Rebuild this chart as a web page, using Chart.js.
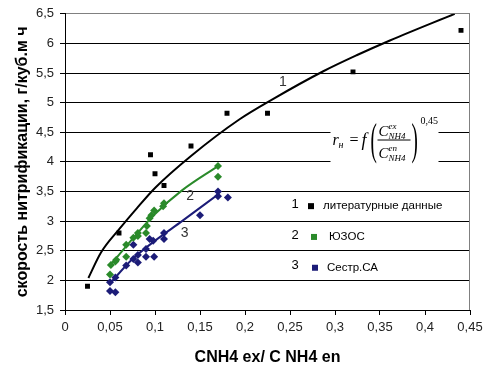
<!DOCTYPE html>
<html><head><meta charset="utf-8">
<script src="https://cdn.jsdelivr.net/npm/chart.js@4/dist/chart.umd.min.js"></script>
<style>html,body{margin:0;padding:0;background:#fff}#wrap{width:489px;height:371px}</style>
</head><body><div id="wrap"><canvas id="c" width="489" height="371"></canvas></div>
<script>
// literature data (series 1)
const litX = [0.025,0.06,0.095,0.1,0.11,0.14,0.18,0.225,0.32,0.44];
const litY = [1.9,2.8,4.12,3.8,3.6,4.27,4.82,4.82,5.52,6.22];
// ЮЗОС (series 2)
const yuzX = [0.05,0.051,0.056,0.057,0.068,0.068,0.076,0.081,0.081,0.09,0.091,0.094,0.096,0.099,0.109,0.11,0.17,0.17];
const yuzY = [2.1,2.26,2.32,2.35,2.4,2.6,2.72,2.75,2.8,2.8,2.92,3.05,3.1,3.18,3.25,3.3,3.93,3.75];
// Сестр.СА (series 3)
const sesX = [0.05,0.056,0.05,0.056,0.068,0.076,0.076,0.081,0.081,0.09,0.09,0.094,0.098,0.099,0.11,0.11,0.15,0.17,0.17,0.181];
const sesY = [1.82,1.8,1.97,2.05,2.25,2.36,2.6,2.3,2.43,2.4,2.53,2.7,2.67,2.4,2.8,2.7,3.1,3.5,3.42,3.4];
// trend curves
const tr1X = [0.026,0.04,0.06,0.08,0.1,0.14,0.194,0.231,0.287,0.324,0.361,0.433];
const tr1Y = [2.04,2.47,2.86,3.22,3.56,4.1,4.72,5.06,5.53,5.8,6.05,6.5];
const tr2X = [0.05,0.075,0.1,0.13,0.17];
const tr2Y = [2.25,2.7,3.12,3.52,3.93];
const tr3X = [0.05,0.075,0.1,0.13,0.17];
const tr3Y = [1.95,2.36,2.67,3.0,3.45];
// tick labels
const xTicks = [0,0.05,0.1,0.15,0.2,0.25,0.3,0.35,0.4,0.45];
const yTicks = [1.5,2,2.5,3,3.5,4,4.5,5,5.5,6,6.5];
const legendNums = ['1','2','3'];
const legendNames = ['литературные данные','ЮЗОС','Сестр.СА'];
const xTitle = 'CNH4 ex/ C NH4 en';
const yTitle = 'скорость нитрификации, г/куб.м ч';

const cBlack = '#000000', cGreen = '#2a8a2a', cBlue = '#1c1c78';
const pts = (xs, ys) => xs.map((x, i) => ({x, y: ys[i]}));
const fmt = v => String(+v.toFixed(2)).replace('.', ',');

const overlay = {
  id: 'overlay',
  afterDatasetsDraw(chart) {
    const ctx = chart.ctx, xs = chart.scales.x, ys = chart.scales.y;
    ctx.save();
    // curve labels
    ctx.font = '14px "Liberation Sans", Arial';
    ctx.fillStyle = '#333';
    ctx.textAlign = 'center'; ctx.textBaseline = 'middle';
    ctx.fillText('1', xs.getPixelForValue(0.242), ys.getPixelForValue(5.35));
    ctx.fillText('2', xs.getPixelForValue(0.139), ys.getPixelForValue(3.42));
    ctx.fillText('3', xs.getPixelForValue(0.133), ys.getPixelForValue(2.79));
    // formula box
    const bx = xs.getPixelForValue(0.295), by = ys.getPixelForValue(4.8);
    ctx.fillStyle = '#fff';
    ctx.fillRect(bx, by, xs.getPixelForValue(0.415) - bx, ys.getPixelForValue(3.9) - by);
    ctx.fillStyle = '#000';
    ctx.textAlign = 'left'; ctx.textBaseline = 'alphabetic';
    ctx.font = 'italic 16px "Liberation Serif", serif';
    ctx.fillText('r', bx + 2, by + 30);
    ctx.font = 'italic 10px "Liberation Serif", serif';
    ctx.fillText('н', bx + 8, by + 33);
    ctx.font = '16px "Liberation Serif", serif';
    ctx.fillText('=', bx + 19, by + 30);
    ctx.font = 'italic 18px "Liberation Serif", serif';
    ctx.fillText('f', bx + 31, by + 31);
    // tall thin parentheses
    ctx.save();
    ctx.translate(0, by + 39);
    ctx.scale(1, 2.3);
    ctx.font = '19px "Liberation Serif", serif';
    ctx.fillText('(', bx + 40, 0);
    ctx.fillText(')', bx + 81, 0);
    ctx.restore();
    ctx.font = 'italic 15px "Liberation Serif", serif';
    ctx.fillText('C', bx + 48, by + 21);
    ctx.fillText('C', bx + 48, by + 43);
    ctx.font = 'italic 9px "Liberation Serif", serif';
    ctx.fillText('ex', bx + 58, by + 14);
    ctx.fillText('NH4', bx + 58, by + 24);
    ctx.fillText('en', bx + 58, by + 36);
    ctx.fillText('NH4', bx + 58, by + 46);
    ctx.fillRect(bx + 47, by + 25, 33, 1);
    ctx.font = '10px "Liberation Serif", serif';
    ctx.fillText('0,45', bx + 90, by + 9);
    // legend
    const cols = [cBlack, cGreen, cBlue];
    const yVals = [3.27, 2.75, 2.23];
    const sqX = [311, 314, 315], txX = [323, 329, 327];
    for (let i = 0; i < 3; i++) {
      const yy = ys.getPixelForValue(yVals[i]);
      ctx.fillStyle = '#000';
      ctx.font = '13px "Liberation Sans", Arial';
      ctx.textBaseline = 'middle'; ctx.textAlign = 'center';
      ctx.fillText(legendNums[i], 295, yy - 1);
      ctx.fillStyle = cols[i];
      ctx.fillRect(sqX[i] - 3, yy - 2, 6, 6);
      ctx.fillStyle = '#000';
      ctx.textAlign = 'left';
      ctx.font = '11.5px "Liberation Sans", Arial';
      ctx.fillText(legendNames[i], txX[i], yy + 1);
    }
    ctx.restore();
  }
};

new Chart(document.getElementById('c'), {
  type: 'scatter',
  data: {
    datasets: [
      {data: pts(tr1X, tr1Y), showLine: true, borderColor: cBlack, borderWidth: 2, pointRadius: 0, cubicInterpolationMode: 'monotone'},
      {data: pts(tr2X, tr2Y), showLine: true, borderColor: cGreen, borderWidth: 2, pointRadius: 0, cubicInterpolationMode: 'monotone'},
      {data: pts(tr3X, tr3Y), showLine: true, borderColor: cBlue, borderWidth: 2, pointRadius: 0, cubicInterpolationMode: 'monotone'},
      {data: pts(litX, litY), pointStyle: 'rect', pointRadius: 3.5, backgroundColor: cBlack, borderColor: cBlack, borderWidth: 0},
      {data: pts(yuzX, yuzY), pointStyle: 'rectRot', pointRadius: 4, backgroundColor: cGreen, borderColor: cGreen, borderWidth: 0},
      {data: pts(sesX, sesY), pointStyle: 'rectRot', pointRadius: 4, backgroundColor: cBlue, borderColor: cBlue, borderWidth: 0}
    ]
  },
  options: {
    responsive: false, animation: false, devicePixelRatio: 1,
    layout: {padding: {top: 10, right: 19, left: 9, bottom: 0}},
    plugins: {legend: {display: false}, tooltip: {enabled: false}},
    scales: {
      x: {
        type: 'linear', min: 0, max: 0.45,
        afterBuildTicks: s => { s.ticks = xTicks.map(v => ({value: v})); },
        afterFit: s => { s.height = 61; },
        grid: {display: true, drawOnChartArea: false, color: '#000', tickLength: 5, tickColor: '#000'},
        border: {color: '#000'},
        ticks: {callback: v => fmt(v), color: '#222', font: {family: '"Liberation Sans", Arial', size: 13}, padding: 5, maxRotation: 0},
        title: {display: true, text: xTitle, color: '#000', font: {family: '"Liberation Sans", Arial', size: 16, weight: 'bold'}, padding: {top: 4}}
      },
      y: {
        type: 'linear', min: 1.5, max: 6.5,
        afterBuildTicks: s => { s.ticks = yTicks.map(v => ({value: v})); },
        afterFit: s => { s.width = 56; },
        grid: {color: ctx => ctx.tick && ctx.tick.value === 6.5 ? '#808080' : '#000', lineWidth: 1, tickLength: 5, tickColor: '#000'},
        border: {color: '#000'},
        ticks: {callback: v => fmt(v), color: '#222', font: {family: '"Liberation Sans", Arial', size: 13}, padding: 6},
        title: {display: true, text: yTitle, color: '#000', font: {family: '"Liberation Sans", Arial', size: 16, weight: 'bold'}, padding: {top: 4, bottom: 2}}
      }
    }
  },
  plugins: [overlay, {
    id: 'frame',
    beforeDatasetsDraw(chart) {
      const a = chart.chartArea, ctx = chart.ctx;
      ctx.save(); ctx.strokeStyle = '#808080'; ctx.lineWidth = 1;
      ctx.beginPath(); ctx.moveTo(a.right - 0.5, a.top); ctx.lineTo(a.right - 0.5, a.bottom); ctx.stroke();
      ctx.restore();
    }
  }]
});
</script></body></html>
